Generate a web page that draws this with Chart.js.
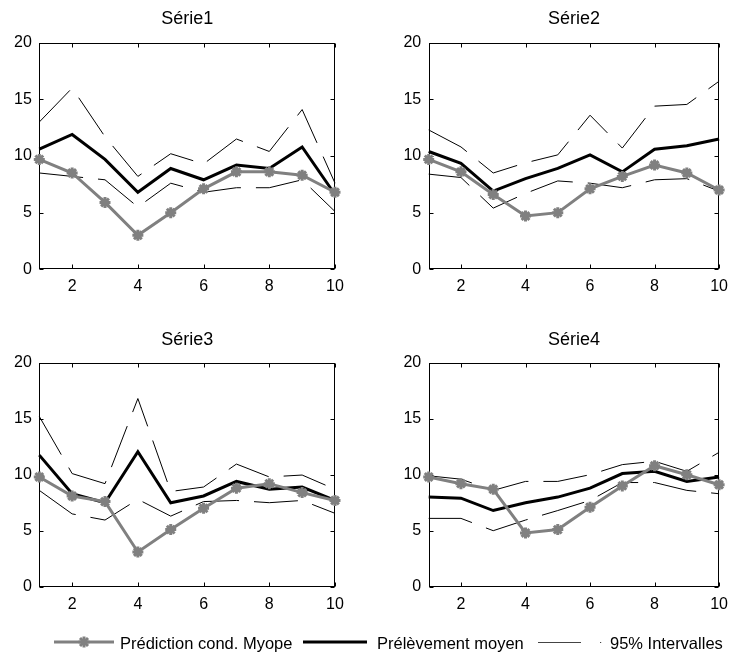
<!DOCTYPE html>
<html><head><meta charset="utf-8">
<script src="https://cdn.jsdelivr.net/npm/chart.js@4.4.1/dist/chart.umd.min.js"></script>
<style>
html,body{margin:0;padding:0;background:#fff;}
body{width:736px;height:654px;position:relative;overflow:hidden;font-family:"Liberation Sans",Arial,sans-serif;}
canvas{position:absolute;display:block;}
.leg{position:absolute;font-size:16.5px;line-height:20px;color:#000;white-space:nowrap;top:633px;}
</style></head><body>
<canvas id="c1" width="368" height="300" style="left:0;top:0"></canvas>
<canvas id="c2" width="368" height="300" style="left:368px;top:0"></canvas>
<canvas id="c3" width="368" height="320" style="left:0;top:300px"></canvas>
<canvas id="c4" width="368" height="320" style="left:368px;top:300px"></canvas>

<svg width="736" height="654" style="position:absolute;left:0;top:0;pointer-events:none">
  <line x1="54" y1="642" x2="114" y2="642" stroke="#808080" stroke-width="3"/>
  <g stroke="#808080" stroke-width="3">
    <line x1="84" y1="636.5" x2="84" y2="647.5"/>
    <line x1="78.5" y1="642" x2="89.5" y2="642"/>
    <line x1="80" y1="638" x2="88" y2="646"/>
    <line x1="80" y1="646" x2="88" y2="638"/>
  </g>
  <line x1="303" y1="642" x2="367" y2="642" stroke="#000" stroke-width="3"/>
  <line x1="538" y1="642.5" x2="581" y2="642.5" stroke="#444" stroke-width="1"/>
  <line x1="600" y1="642.5" x2="601.2" y2="642.5" stroke="#444" stroke-width="1"/>
</svg>
<div class="leg" style="left:120px">Prédiction cond. Myope</div>
<div class="leg" style="left:377px">Prélèvement moyen</div>
<div class="leg" style="left:610px">95% Intervalles</div>

<script>
// ---- data ----
const xValues = [1, 2, 3, 4, 5, 6, 7, 8, 9, 10];
const xTicks = [2, 4, 6, 8, 10];
const yTicks = [0, 5, 10, 15, 20];
const seriesNames = ["Série1", "Série2", "Série3", "Série4"];
const legendNames = ["Prédiction cond. Myope", "Prélèvement moyen", "95% Intervalles"];

const pred1 = [9.7, 8.5, 5.9, 3.0, 5.0, 7.1, 8.6, 8.6, 8.3, 6.8];
const mean1 = [10.6, 11.9, 9.7, 6.8, 8.9, 7.9, 9.2, 8.9, 10.8, 6.6];
const up1   = [13.0, 16.0, 11.7, 8.2, 10.2, 9.3, 11.5, 10.4, 14.1, 7.6];
const lo1   = [8.5, 8.2, 7.9, 5.5, 7.6, 6.8, 7.2, 7.2, 7.9, 5.1];

const pred2 = [9.7, 8.6, 6.6, 4.7, 5.0, 7.1, 8.2, 9.2, 8.5, 7.0];
const mean2 = [10.4, 9.35, 6.9, 8.0, 8.9, 10.1, 8.6, 10.6, 10.9, 11.5];
const up2   = [12.3, 10.8, 8.5, 9.4, 10.1, 13.6, 10.7, 14.4, 14.55, 16.6];
const lo2   = [8.4, 8.1, 5.4, 6.7, 7.8, 7.6, 7.2, 7.9, 8.0, 6.9];

const pred3 = [9.8, 8.1, 7.6, 3.1, 5.1, 7.0, 8.8, 9.2, 8.4, 7.7];
const mean3 = [11.75, 8.3, 7.5, 12.05, 7.5, 8.1, 9.4, 8.7, 8.9, 7.7];
const up3   = [15.2, 10.1, 9.2, 16.8, 8.5, 8.9, 10.95, 9.8, 9.97, 8.7];
const lo3   = [8.6, 6.5, 5.95, 7.8, 6.3, 7.6, 7.7, 7.5, 7.7, 6.55];

const pred4 = [9.8, 9.2, 8.7, 4.8, 5.1, 7.1, 9.0, 10.8, 10.0, 9.1];
const mean4 = [8.0, 7.9, 6.8, 7.5, 8.0, 8.8, 10.1, 10.3, 9.4, 9.8];
const up4   = [9.9, 9.6, 8.6, 9.4, 9.4, 10.0, 10.9, 11.2, 10.3, 12.0];
const lo4   = [6.1, 6.1, 5.0, 5.95, 6.8, 7.7, 9.3, 9.3, 8.6, 8.3];

// ---- layout (chart-area geometry per panel, in canvas px) ----
const panels = [
  {id: "c1", name: seriesNames[0], pred: pred1, mean: mean1, up: up1, lo: lo1, w: 368, h: 300, L: 39.3, R: 335, T: 42.7, B: 269.3, titleY: 19.4},
  {id: "c2", name: seriesNames[1], pred: pred2, mean: mean2, up: up2, lo: lo2, w: 368, h: 300, L: 60.7, R: 358.3, T: 42.7, B: 269.3, titleY: 19.4},
  {id: "c3", name: seriesNames[2], pred: pred3, mean: mean3, up: up3, lo: lo3, w: 368, h: 320, L: 39.3, R: 335, T: 62.7, B: 286.7, titleY: 40.4},
  {id: "c4", name: seriesNames[3], pred: pred4, mean: mean4, up: up4, lo: lo4, w: 368, h: 320, L: 60.7, R: 358.3, T: 62.7, B: 286.7, titleY: 40.4}
];

const FONT = "'Liberation Sans', Arial, sans-serif";
const XAXIS_H = 30;

const framePlugin = {
  id: "frame",
  beforeDatasetsDraw(chart) {
    const {ctx, chartArea: a, scales} = chart;
    ctx.save();
    ctx.strokeStyle = "#000";
    ctx.lineWidth = 1;
    const l = Math.round(a.left) + 0.5, r = Math.round(a.right) - 0.5;
    const t = Math.round(a.top) + 0.5, b = Math.round(a.bottom) - 0.5;
    ctx.strokeRect(l, t, r - l, b - t);
    const tl = 4;
    ctx.beginPath();
    yTicks.forEach(v => {
      const y = Math.round(scales.y.getPixelForValue(v)) + 0.5;
      ctx.moveTo(l, y); ctx.lineTo(l + tl, y);
      ctx.moveTo(r, y); ctx.lineTo(r - tl, y);
    });
    xTicks.forEach(v => {
      const x = Math.round(scales.x.getPixelForValue(v)) + 0.5;
      ctx.moveTo(x, b); ctx.lineTo(x, b - tl);
      ctx.moveTo(x, t); ctx.lineTo(x, t + tl);
    });
    ctx.stroke();
    ctx.restore();
  },
  afterDraw(chart, args, opts) {
    const {ctx, chartArea: a} = chart;
    ctx.save();
    ctx.fillStyle = "#000";
    ctx.font = "18px " + FONT;
    ctx.textAlign = "center";
    ctx.textBaseline = "middle";
    ctx.fillText(opts.text, (a.left + a.right) / 2, opts.y);
    ctx.restore();
  }
};

panels.forEach(p => {
  const pts = arr => arr.map((v, i) => ({x: xValues[i], y: v}));
  new Chart(document.getElementById(p.id), {
    type: "line",
    data: {
      datasets: [
        {label: legendNames[0], data: pts(p.pred), borderColor: "#808080", backgroundColor: "#808080",
         borderWidth: 3, pointStyle: "star", pointRadius: 5.5, pointBorderWidth: 3, pointBorderColor: "#808080", tension: 0},
        {label: legendNames[1], data: pts(p.mean), borderColor: "#000", borderWidth: 3, pointRadius: 0, tension: 0},
        {label: legendNames[2], data: pts(p.up), borderColor: "#000", borderWidth: 1, borderDash: [44, 15], pointRadius: 0, tension: 0},
        {label: legendNames[2], data: pts(p.lo), borderColor: "#000", borderWidth: 1, borderDash: [44, 15], pointRadius: 0, tension: 0}
      ]
    },
    options: {
      responsive: false,
      animation: false,
      devicePixelRatio: 1,
      clip: false,
      layout: {padding: {left: 0, right: p.w - p.R, top: p.T, bottom: p.h - p.B - XAXIS_H}},
      plugins: {
        legend: {display: false},
        tooltip: {enabled: false},
        title: {display: false},
        frame: {text: p.name, y: p.titleY}
      },
      scales: {
        x: {
          type: "linear", min: 1, max: 10,
          afterBuildTicks: s => { s.ticks = xTicks.map(v => ({value: v})); },
          afterFit: s => { s.height = XAXIS_H; },
          grid: {display: false, drawTicks: false},
          border: {display: false},
          ticks: {font: {family: FONT, size: 16}, color: "#000", padding: 8, maxRotation: 0, autoSkip: false}
        },
        y: {
          type: "linear", min: 0, max: 20,
          afterBuildTicks: s => { s.ticks = yTicks.map(v => ({value: v})); },
          afterFit: s => { s.width = p.L; },
          grid: {display: false, drawTicks: false},
          border: {display: false},
          ticks: {font: {family: FONT, size: 16}, color: "#000", padding: 7.5}
        }
      }
    },
    plugins: [framePlugin]
  });
});
</script>
</body></html>
